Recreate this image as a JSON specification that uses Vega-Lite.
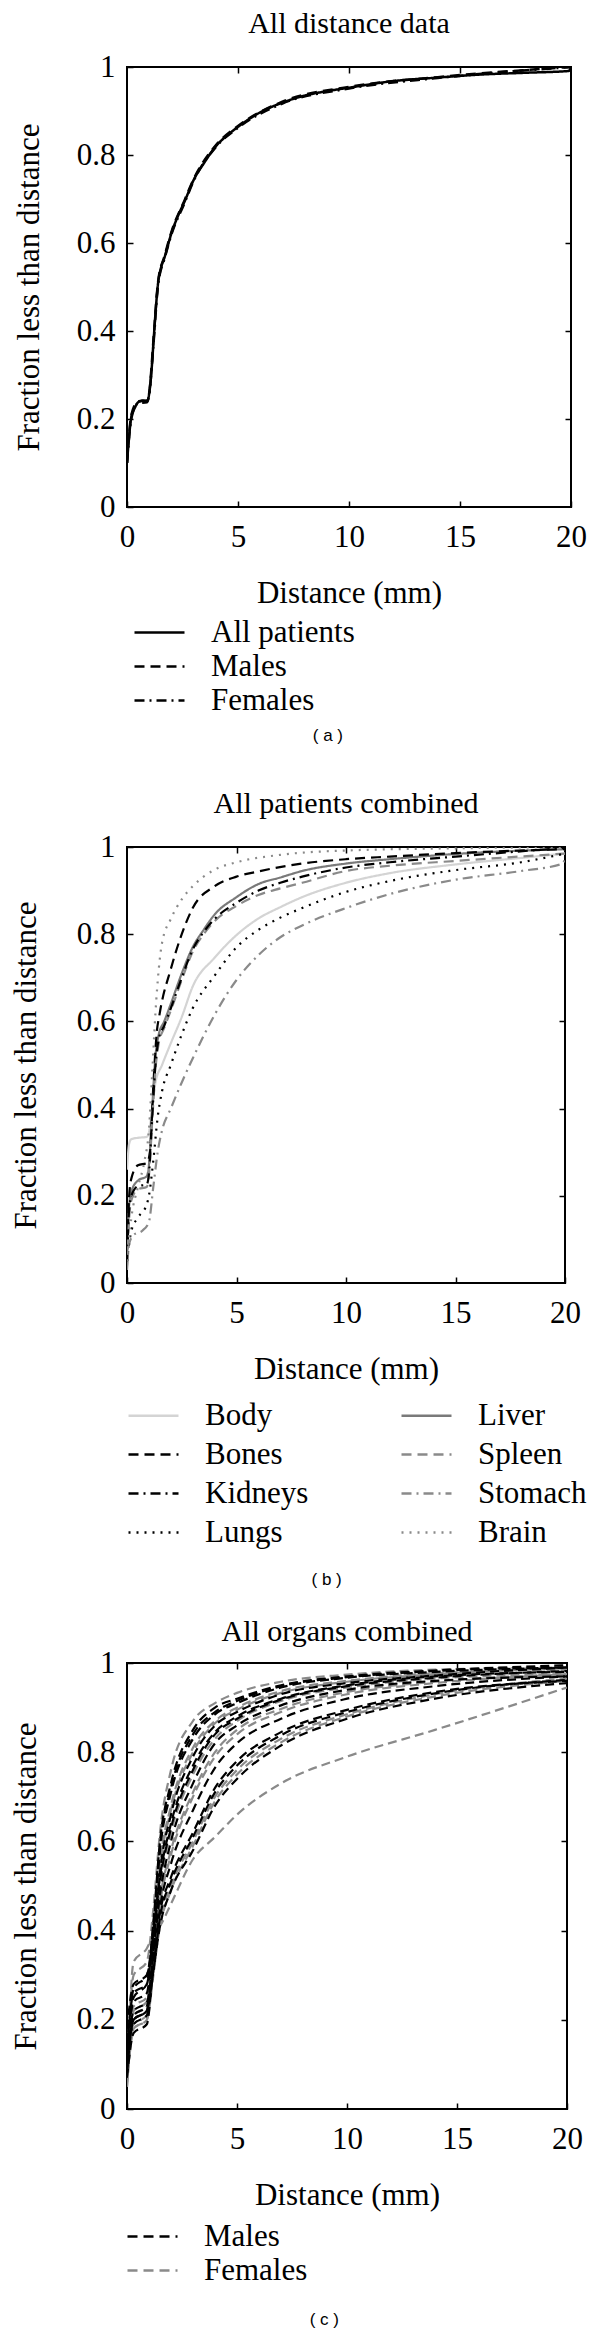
{
  "$schema": "https://vega.github.io/schema/vega-lite/v6.json",
  "background": "white",
  "padding": {"left": 9, "top": 8, "right": 5, "bottom": 5},
  "config": {
    "font": "Liberation Serif",
    "view": {"stroke": "black", "strokeWidth": 2},
    "title": {"font": "Liberation Serif", "fontSize": 30, "fontWeight": "normal", "color": "black", "anchor": "middle", "offset": 12},
    "axis": {
      "labelFont": "Liberation Serif", "labelFontSize": 31, "labelColor": "black",
      "titleFont": "Liberation Serif", "titleFontSize": 31, "titleFontWeight": "normal", "titleColor": "black",
      "grid": false, "domain": false, "tickColor": "black", "tickWidth": 1.5, "tickSize": -6,
      "labelFlush": false, "labelOverlap": false
    },
    "axisX": {"labelPadding": 21, "titlePadding": 26},
    "axisY": {"labelPadding": 18, "titlePadding": 31},
    "legend": {
      "labelFont": "Liberation Serif", "labelFontSize": 31, "labelColor": "black",
      "symbolType": "M-2,0H2", "symbolSize": 625, "symbolStrokeWidth": 2.5, "labelOffset": 36,
      "rowPadding": 2, "orient": "none"
    }
  },
  "resolve": {"scale": {"color": "independent", "strokeDash": "independent"}, "legend": {"color": "independent", "strokeDash": "independent"}},
  "datasets": {
    "a": [
      {"series": "All patients", "distance": 0, "fraction": 0.10},
      {"series": "All patients", "distance": 0.2, "fraction": 0.206},
      {"series": "All patients", "distance": 0.35, "fraction": 0.225},
      {"series": "All patients", "distance": 0.5, "fraction": 0.238},
      {"series": "All patients", "distance": 0.7, "fraction": 0.242},
      {"series": "All patients", "distance": 0.9, "fraction": 0.240},
      {"series": "All patients", "distance": 1.0, "fraction": 0.258},
      {"series": "All patients", "distance": 1.1, "fraction": 0.307},
      {"series": "All patients", "distance": 1.2, "fraction": 0.38},
      {"series": "All patients", "distance": 1.3, "fraction": 0.452},
      {"series": "All patients", "distance": 1.4, "fraction": 0.509},
      {"series": "All patients", "distance": 1.5, "fraction": 0.537},
      {"series": "All patients", "distance": 1.7, "fraction": 0.569},
      {"series": "All patients", "distance": 2.0, "fraction": 0.622},
      {"series": "All patients", "distance": 2.3, "fraction": 0.662},
      {"series": "All patients", "distance": 2.6, "fraction": 0.695},
      {"series": "All patients", "distance": 3.0, "fraction": 0.743},
      {"series": "All patients", "distance": 3.5, "fraction": 0.784},
      {"series": "All patients", "distance": 4.0, "fraction": 0.82},
      {"series": "All patients", "distance": 4.5, "fraction": 0.844},
      {"series": "All patients", "distance": 5, "fraction": 0.864},
      {"series": "All patients", "distance": 6, "fraction": 0.897},
      {"series": "All patients", "distance": 7, "fraction": 0.919},
      {"series": "All patients", "distance": 8, "fraction": 0.935},
      {"series": "All patients", "distance": 9, "fraction": 0.945},
      {"series": "All patients", "distance": 10, "fraction": 0.953},
      {"series": "All patients", "distance": 12, "fraction": 0.968},
      {"series": "All patients", "distance": 14, "fraction": 0.976},
      {"series": "All patients", "distance": 16, "fraction": 0.983},
      {"series": "All patients", "distance": 18, "fraction": 0.987},
      {"series": "All patients", "distance": 19.9, "fraction": 0.991},
      {"series": "All patients", "distance": 20, "fraction": 1.0},
      {"series": "Males", "distance": 0, "fraction": 0.10},
      {"series": "Males", "distance": 0.2, "fraction": 0.21},
      {"series": "Males", "distance": 0.5, "fraction": 0.24},
      {"series": "Males", "distance": 0.9, "fraction": 0.242},
      {"series": "Males", "distance": 1.0, "fraction": 0.26},
      {"series": "Males", "distance": 1.2, "fraction": 0.385},
      {"series": "Males", "distance": 1.4, "fraction": 0.512},
      {"series": "Males", "distance": 1.7, "fraction": 0.572},
      {"series": "Males", "distance": 2.0, "fraction": 0.625},
      {"series": "Males", "distance": 2.6, "fraction": 0.698},
      {"series": "Males", "distance": 3.0, "fraction": 0.745},
      {"series": "Males", "distance": 4.0, "fraction": 0.822},
      {"series": "Males", "distance": 5, "fraction": 0.866},
      {"series": "Males", "distance": 7, "fraction": 0.921},
      {"series": "Males", "distance": 10, "fraction": 0.955},
      {"series": "Males", "distance": 14, "fraction": 0.977},
      {"series": "Males", "distance": 20, "fraction": 1.0},
      {"series": "Females", "distance": 0, "fraction": 0.10},
      {"series": "Females", "distance": 0.2, "fraction": 0.202},
      {"series": "Females", "distance": 0.5, "fraction": 0.236},
      {"series": "Females", "distance": 0.9, "fraction": 0.238},
      {"series": "Females", "distance": 1.0, "fraction": 0.255},
      {"series": "Females", "distance": 1.2, "fraction": 0.375},
      {"series": "Females", "distance": 1.4, "fraction": 0.505},
      {"series": "Females", "distance": 1.7, "fraction": 0.566},
      {"series": "Females", "distance": 2.0, "fraction": 0.619},
      {"series": "Females", "distance": 2.6, "fraction": 0.692},
      {"series": "Females", "distance": 3.0, "fraction": 0.741},
      {"series": "Females", "distance": 4.0, "fraction": 0.818},
      {"series": "Females", "distance": 5, "fraction": 0.862},
      {"series": "Females", "distance": 7, "fraction": 0.917},
      {"series": "Females", "distance": 10, "fraction": 0.951},
      {"series": "Females", "distance": 14, "fraction": 0.975},
      {"series": "Females", "distance": 20, "fraction": 1.0}
    ],
    "b": [
      {"organ": "Body", "distance": 0, "fraction": 0.26},
      {"organ": "Body", "distance": 0.1, "fraction": 0.32},
      {"organ": "Body", "distance": 0.2, "fraction": 0.33},
      {"organ": "Body", "distance": 0.5, "fraction": 0.333},
      {"organ": "Body", "distance": 0.9, "fraction": 0.335},
      {"organ": "Body", "distance": 1.0, "fraction": 0.345},
      {"organ": "Body", "distance": 1.15, "fraction": 0.4},
      {"organ": "Body", "distance": 1.3, "fraction": 0.46},
      {"organ": "Body", "distance": 1.6, "fraction": 0.5},
      {"organ": "Body", "distance": 2, "fraction": 0.55},
      {"organ": "Body", "distance": 2.5, "fraction": 0.61},
      {"organ": "Body", "distance": 3, "fraction": 0.68},
      {"organ": "Body", "distance": 4, "fraction": 0.746},
      {"organ": "Body", "distance": 5, "fraction": 0.798},
      {"organ": "Body", "distance": 6, "fraction": 0.836},
      {"organ": "Body", "distance": 7, "fraction": 0.862},
      {"organ": "Body", "distance": 8, "fraction": 0.885},
      {"organ": "Body", "distance": 10, "fraction": 0.918},
      {"organ": "Body", "distance": 12, "fraction": 0.94},
      {"organ": "Body", "distance": 15, "fraction": 0.96},
      {"organ": "Body", "distance": 18, "fraction": 0.975},
      {"organ": "Body", "distance": 20, "fraction": 0.985},
      {"organ": "Liver", "distance": 0, "fraction": 0.05},
      {"organ": "Liver", "distance": 0.1, "fraction": 0.18},
      {"organ": "Liver", "distance": 0.2, "fraction": 0.21},
      {"organ": "Liver", "distance": 0.5, "fraction": 0.235},
      {"organ": "Liver", "distance": 0.9, "fraction": 0.245},
      {"organ": "Liver", "distance": 1.0, "fraction": 0.27},
      {"organ": "Liver", "distance": 1.15, "fraction": 0.4},
      {"organ": "Liver", "distance": 1.3, "fraction": 0.52},
      {"organ": "Liver", "distance": 1.45, "fraction": 0.57},
      {"organ": "Liver", "distance": 1.7, "fraction": 0.6},
      {"organ": "Liver", "distance": 2, "fraction": 0.64},
      {"organ": "Liver", "distance": 2.5, "fraction": 0.71},
      {"organ": "Liver", "distance": 3, "fraction": 0.77},
      {"organ": "Liver", "distance": 3.5, "fraction": 0.81},
      {"organ": "Liver", "distance": 4, "fraction": 0.845},
      {"organ": "Liver", "distance": 5, "fraction": 0.885},
      {"organ": "Liver", "distance": 6, "fraction": 0.915},
      {"organ": "Liver", "distance": 7, "fraction": 0.93},
      {"organ": "Liver", "distance": 8, "fraction": 0.945},
      {"organ": "Liver", "distance": 10, "fraction": 0.962},
      {"organ": "Liver", "distance": 12, "fraction": 0.972},
      {"organ": "Liver", "distance": 15, "fraction": 0.984},
      {"organ": "Liver", "distance": 20, "fraction": 0.995},
      {"organ": "Bones", "distance": 0, "fraction": 0.05},
      {"organ": "Bones", "distance": 0.1, "fraction": 0.2},
      {"organ": "Bones", "distance": 0.2, "fraction": 0.24},
      {"organ": "Bones", "distance": 0.5, "fraction": 0.27},
      {"organ": "Bones", "distance": 0.9, "fraction": 0.275},
      {"organ": "Bones", "distance": 1.05, "fraction": 0.3},
      {"organ": "Bones", "distance": 1.2, "fraction": 0.45},
      {"organ": "Bones", "distance": 1.35, "fraction": 0.57},
      {"organ": "Bones", "distance": 1.5, "fraction": 0.62},
      {"organ": "Bones", "distance": 2, "fraction": 0.72},
      {"organ": "Bones", "distance": 2.5, "fraction": 0.8},
      {"organ": "Bones", "distance": 3, "fraction": 0.86},
      {"organ": "Bones", "distance": 4, "fraction": 0.91},
      {"organ": "Bones", "distance": 5, "fraction": 0.932},
      {"organ": "Bones", "distance": 6, "fraction": 0.944},
      {"organ": "Bones", "distance": 8, "fraction": 0.962},
      {"organ": "Bones", "distance": 10, "fraction": 0.972},
      {"organ": "Bones", "distance": 12, "fraction": 0.978},
      {"organ": "Bones", "distance": 15, "fraction": 0.986},
      {"organ": "Bones", "distance": 20, "fraction": 0.995},
      {"organ": "Spleen", "distance": 0, "fraction": 0.04},
      {"organ": "Spleen", "distance": 0.1, "fraction": 0.15},
      {"organ": "Spleen", "distance": 0.2, "fraction": 0.19},
      {"organ": "Spleen", "distance": 0.5, "fraction": 0.215},
      {"organ": "Spleen", "distance": 0.9, "fraction": 0.22},
      {"organ": "Spleen", "distance": 1.0, "fraction": 0.245},
      {"organ": "Spleen", "distance": 1.15, "fraction": 0.37},
      {"organ": "Spleen", "distance": 1.3, "fraction": 0.49},
      {"organ": "Spleen", "distance": 1.45, "fraction": 0.55},
      {"organ": "Spleen", "distance": 1.7, "fraction": 0.585},
      {"organ": "Spleen", "distance": 2, "fraction": 0.625},
      {"organ": "Spleen", "distance": 2.5, "fraction": 0.695},
      {"organ": "Spleen", "distance": 3, "fraction": 0.76},
      {"organ": "Spleen", "distance": 3.5, "fraction": 0.8},
      {"organ": "Spleen", "distance": 4, "fraction": 0.83},
      {"organ": "Spleen", "distance": 5, "fraction": 0.865},
      {"organ": "Spleen", "distance": 6, "fraction": 0.89},
      {"organ": "Spleen", "distance": 7, "fraction": 0.905},
      {"organ": "Spleen", "distance": 8, "fraction": 0.918},
      {"organ": "Spleen", "distance": 10, "fraction": 0.945},
      {"organ": "Spleen", "distance": 12, "fraction": 0.957},
      {"organ": "Spleen", "distance": 15, "fraction": 0.968},
      {"organ": "Spleen", "distance": 20, "fraction": 0.985},
      {"organ": "Kidneys", "distance": 0, "fraction": 0.05},
      {"organ": "Kidneys", "distance": 0.1, "fraction": 0.17},
      {"organ": "Kidneys", "distance": 0.2, "fraction": 0.2},
      {"organ": "Kidneys", "distance": 0.5, "fraction": 0.222},
      {"organ": "Kidneys", "distance": 0.9, "fraction": 0.226},
      {"organ": "Kidneys", "distance": 1.0, "fraction": 0.25},
      {"organ": "Kidneys", "distance": 1.15, "fraction": 0.38},
      {"organ": "Kidneys", "distance": 1.3, "fraction": 0.5},
      {"organ": "Kidneys", "distance": 1.45, "fraction": 0.56},
      {"organ": "Kidneys", "distance": 1.7, "fraction": 0.59},
      {"organ": "Kidneys", "distance": 2, "fraction": 0.63},
      {"organ": "Kidneys", "distance": 2.5, "fraction": 0.7},
      {"organ": "Kidneys", "distance": 3, "fraction": 0.765},
      {"organ": "Kidneys", "distance": 3.5, "fraction": 0.805},
      {"organ": "Kidneys", "distance": 4, "fraction": 0.835},
      {"organ": "Kidneys", "distance": 5, "fraction": 0.872},
      {"organ": "Kidneys", "distance": 6, "fraction": 0.9},
      {"organ": "Kidneys", "distance": 7, "fraction": 0.918},
      {"organ": "Kidneys", "distance": 8, "fraction": 0.932},
      {"organ": "Kidneys", "distance": 10, "fraction": 0.953},
      {"organ": "Kidneys", "distance": 12, "fraction": 0.965},
      {"organ": "Kidneys", "distance": 15, "fraction": 0.978},
      {"organ": "Kidneys", "distance": 20, "fraction": 0.998},
      {"organ": "Stomach", "distance": 0, "fraction": 0.03},
      {"organ": "Stomach", "distance": 0.1, "fraction": 0.09},
      {"organ": "Stomach", "distance": 0.3, "fraction": 0.11},
      {"organ": "Stomach", "distance": 0.7, "fraction": 0.12},
      {"organ": "Stomach", "distance": 1.0, "fraction": 0.14},
      {"organ": "Stomach", "distance": 1.2, "fraction": 0.22},
      {"organ": "Stomach", "distance": 1.4, "fraction": 0.3},
      {"organ": "Stomach", "distance": 1.6, "fraction": 0.35},
      {"organ": "Stomach", "distance": 2, "fraction": 0.4},
      {"organ": "Stomach", "distance": 2.5, "fraction": 0.46},
      {"organ": "Stomach", "distance": 3, "fraction": 0.515},
      {"organ": "Stomach", "distance": 4, "fraction": 0.615},
      {"organ": "Stomach", "distance": 5, "fraction": 0.695},
      {"organ": "Stomach", "distance": 6, "fraction": 0.752},
      {"organ": "Stomach", "distance": 7, "fraction": 0.793},
      {"organ": "Stomach", "distance": 8, "fraction": 0.82},
      {"organ": "Stomach", "distance": 10, "fraction": 0.86},
      {"organ": "Stomach", "distance": 12, "fraction": 0.892},
      {"organ": "Stomach", "distance": 15, "fraction": 0.925},
      {"organ": "Stomach", "distance": 18, "fraction": 0.945},
      {"organ": "Stomach", "distance": 19.9, "fraction": 0.962},
      {"organ": "Stomach", "distance": 20, "fraction": 0.975},
      {"organ": "Lungs", "distance": 0, "fraction": 0.05},
      {"organ": "Lungs", "distance": 0.2, "fraction": 0.12},
      {"organ": "Lungs", "distance": 0.5, "fraction": 0.15},
      {"organ": "Lungs", "distance": 0.9, "fraction": 0.18},
      {"organ": "Lungs", "distance": 1.0, "fraction": 0.2},
      {"organ": "Lungs", "distance": 1.2, "fraction": 0.28},
      {"organ": "Lungs", "distance": 1.4, "fraction": 0.38},
      {"organ": "Lungs", "distance": 1.6, "fraction": 0.44},
      {"organ": "Lungs", "distance": 2, "fraction": 0.5},
      {"organ": "Lungs", "distance": 2.5, "fraction": 0.57},
      {"organ": "Lungs", "distance": 3, "fraction": 0.63},
      {"organ": "Lungs", "distance": 4, "fraction": 0.705},
      {"organ": "Lungs", "distance": 5, "fraction": 0.77},
      {"organ": "Lungs", "distance": 6, "fraction": 0.81},
      {"organ": "Lungs", "distance": 7, "fraction": 0.838},
      {"organ": "Lungs", "distance": 8, "fraction": 0.86},
      {"organ": "Lungs", "distance": 10, "fraction": 0.897},
      {"organ": "Lungs", "distance": 12, "fraction": 0.922},
      {"organ": "Lungs", "distance": 15, "fraction": 0.947},
      {"organ": "Lungs", "distance": 18, "fraction": 0.965},
      {"organ": "Lungs", "distance": 20, "fraction": 0.985},
      {"organ": "Brain", "distance": 0, "fraction": 0.05},
      {"organ": "Brain", "distance": 0.2, "fraction": 0.15},
      {"organ": "Brain", "distance": 0.5, "fraction": 0.22},
      {"organ": "Brain", "distance": 0.8, "fraction": 0.28},
      {"organ": "Brain", "distance": 1.0, "fraction": 0.35},
      {"organ": "Brain", "distance": 1.15, "fraction": 0.48},
      {"organ": "Brain", "distance": 1.3, "fraction": 0.62},
      {"organ": "Brain", "distance": 1.45, "fraction": 0.72},
      {"organ": "Brain", "distance": 1.6, "fraction": 0.78},
      {"organ": "Brain", "distance": 2, "fraction": 0.835},
      {"organ": "Brain", "distance": 2.5, "fraction": 0.88},
      {"organ": "Brain", "distance": 3, "fraction": 0.91},
      {"organ": "Brain", "distance": 4, "fraction": 0.948},
      {"organ": "Brain", "distance": 5, "fraction": 0.965},
      {"organ": "Brain", "distance": 7, "fraction": 0.982},
      {"organ": "Brain", "distance": 10, "fraction": 0.992},
      {"organ": "Brain", "distance": 15, "fraction": 0.997},
      {"organ": "Brain", "distance": 20, "fraction": 1.0}
    ],
    "c": [
      {"curve": "F1", "sex": "Females", "distance": 0, "fraction": 0.10},
      {"curve": "F1", "sex": "Females", "distance": 0.3, "fraction": 0.30},
      {"curve": "F1", "sex": "Females", "distance": 0.9, "fraction": 0.33},
      {"curve": "F1", "sex": "Females", "distance": 1.2, "fraction": 0.45},
      {"curve": "F1", "sex": "Females", "distance": 1.5, "fraction": 0.62},
      {"curve": "F1", "sex": "Females", "distance": 2, "fraction": 0.76},
      {"curve": "F1", "sex": "Females", "distance": 3, "fraction": 0.87},
      {"curve": "F1", "sex": "Females", "distance": 4, "fraction": 0.91},
      {"curve": "F1", "sex": "Females", "distance": 5, "fraction": 0.933},
      {"curve": "F1", "sex": "Females", "distance": 7, "fraction": 0.958},
      {"curve": "F1", "sex": "Females", "distance": 10, "fraction": 0.974},
      {"curve": "F1", "sex": "Females", "distance": 14, "fraction": 0.985},
      {"curve": "F1", "sex": "Females", "distance": 20, "fraction": 0.99},
      {"curve": "F2", "sex": "Females", "distance": 0, "fraction": 0.08},
      {"curve": "F2", "sex": "Females", "distance": 0.3, "fraction": 0.22},
      {"curve": "F2", "sex": "Females", "distance": 0.9, "fraction": 0.24},
      {"curve": "F2", "sex": "Females", "distance": 1.2, "fraction": 0.38},
      {"curve": "F2", "sex": "Females", "distance": 1.5, "fraction": 0.55},
      {"curve": "F2", "sex": "Females", "distance": 2, "fraction": 0.68},
      {"curve": "F2", "sex": "Females", "distance": 3, "fraction": 0.81},
      {"curve": "F2", "sex": "Females", "distance": 4, "fraction": 0.87},
      {"curve": "F2", "sex": "Females", "distance": 5, "fraction": 0.90},
      {"curve": "F2", "sex": "Females", "distance": 7, "fraction": 0.937},
      {"curve": "F2", "sex": "Females", "distance": 10, "fraction": 0.96},
      {"curve": "F2", "sex": "Females", "distance": 14, "fraction": 0.977},
      {"curve": "F2", "sex": "Females", "distance": 20, "fraction": 0.985},
      {"curve": "F3", "sex": "Females", "distance": 0, "fraction": 0.12},
      {"curve": "F3", "sex": "Females", "distance": 0.3, "fraction": 0.23},
      {"curve": "F3", "sex": "Females", "distance": 0.9, "fraction": 0.25},
      {"curve": "F3", "sex": "Females", "distance": 1.2, "fraction": 0.37},
      {"curve": "F3", "sex": "Females", "distance": 1.5, "fraction": 0.54},
      {"curve": "F3", "sex": "Females", "distance": 2, "fraction": 0.67},
      {"curve": "F3", "sex": "Females", "distance": 3, "fraction": 0.80},
      {"curve": "F3", "sex": "Females", "distance": 4, "fraction": 0.865},
      {"curve": "F3", "sex": "Females", "distance": 5, "fraction": 0.895},
      {"curve": "F3", "sex": "Females", "distance": 7, "fraction": 0.933},
      {"curve": "F3", "sex": "Females", "distance": 10, "fraction": 0.958},
      {"curve": "F3", "sex": "Females", "distance": 14, "fraction": 0.975},
      {"curve": "F3", "sex": "Females", "distance": 20, "fraction": 0.988},
      {"curve": "F4", "sex": "Females", "distance": 0, "fraction": 0.06},
      {"curve": "F4", "sex": "Females", "distance": 0.3, "fraction": 0.18},
      {"curve": "F4", "sex": "Females", "distance": 0.9, "fraction": 0.20},
      {"curve": "F4", "sex": "Females", "distance": 1.2, "fraction": 0.35},
      {"curve": "F4", "sex": "Females", "distance": 1.5, "fraction": 0.50},
      {"curve": "F4", "sex": "Females", "distance": 2, "fraction": 0.62},
      {"curve": "F4", "sex": "Females", "distance": 3, "fraction": 0.75},
      {"curve": "F4", "sex": "Females", "distance": 4, "fraction": 0.83},
      {"curve": "F4", "sex": "Females", "distance": 5, "fraction": 0.87},
      {"curve": "F4", "sex": "Females", "distance": 7, "fraction": 0.915},
      {"curve": "F4", "sex": "Females", "distance": 10, "fraction": 0.945},
      {"curve": "F4", "sex": "Females", "distance": 14, "fraction": 0.965},
      {"curve": "F4", "sex": "Females", "distance": 20, "fraction": 0.975},
      {"curve": "F5", "sex": "Females", "distance": 0, "fraction": 0.11},
      {"curve": "F5", "sex": "Females", "distance": 0.3, "fraction": 0.20},
      {"curve": "F5", "sex": "Females", "distance": 0.9, "fraction": 0.22},
      {"curve": "F5", "sex": "Females", "distance": 1.2, "fraction": 0.34},
      {"curve": "F5", "sex": "Females", "distance": 1.5, "fraction": 0.47},
      {"curve": "F5", "sex": "Females", "distance": 2, "fraction": 0.58},
      {"curve": "F5", "sex": "Females", "distance": 3, "fraction": 0.71},
      {"curve": "F5", "sex": "Females", "distance": 4, "fraction": 0.80},
      {"curve": "F5", "sex": "Females", "distance": 5, "fraction": 0.85},
      {"curve": "F5", "sex": "Females", "distance": 7, "fraction": 0.897},
      {"curve": "F5", "sex": "Females", "distance": 10, "fraction": 0.935},
      {"curve": "F5", "sex": "Females", "distance": 14, "fraction": 0.958},
      {"curve": "F5", "sex": "Females", "distance": 20, "fraction": 0.975},
      {"curve": "F6", "sex": "Females", "distance": 0, "fraction": 0.12},
      {"curve": "F6", "sex": "Females", "distance": 0.3, "fraction": 0.19},
      {"curve": "F6", "sex": "Females", "distance": 0.9, "fraction": 0.21},
      {"curve": "F6", "sex": "Females", "distance": 1.2, "fraction": 0.34},
      {"curve": "F6", "sex": "Females", "distance": 1.5, "fraction": 0.46},
      {"curve": "F6", "sex": "Females", "distance": 2, "fraction": 0.57},
      {"curve": "F6", "sex": "Females", "distance": 3, "fraction": 0.70},
      {"curve": "F6", "sex": "Females", "distance": 4, "fraction": 0.79},
      {"curve": "F6", "sex": "Females", "distance": 5, "fraction": 0.84},
      {"curve": "F6", "sex": "Females", "distance": 7, "fraction": 0.89},
      {"curve": "F6", "sex": "Females", "distance": 10, "fraction": 0.93},
      {"curve": "F6", "sex": "Females", "distance": 14, "fraction": 0.955},
      {"curve": "F6", "sex": "Females", "distance": 20, "fraction": 0.975},
      {"curve": "F7", "sex": "Females", "distance": 0, "fraction": 0.05},
      {"curve": "F7", "sex": "Females", "distance": 0.3, "fraction": 0.18},
      {"curve": "F7", "sex": "Females", "distance": 0.9, "fraction": 0.20},
      {"curve": "F7", "sex": "Females", "distance": 1.2, "fraction": 0.30},
      {"curve": "F7", "sex": "Females", "distance": 1.5, "fraction": 0.42},
      {"curve": "F7", "sex": "Females", "distance": 2, "fraction": 0.50},
      {"curve": "F7", "sex": "Females", "distance": 3, "fraction": 0.60},
      {"curve": "F7", "sex": "Females", "distance": 4, "fraction": 0.70},
      {"curve": "F7", "sex": "Females", "distance": 5, "fraction": 0.76},
      {"curve": "F7", "sex": "Females", "distance": 7, "fraction": 0.83},
      {"curve": "F7", "sex": "Females", "distance": 10, "fraction": 0.885},
      {"curve": "F7", "sex": "Females", "distance": 14, "fraction": 0.93},
      {"curve": "F7", "sex": "Females", "distance": 20, "fraction": 0.965},
      {"curve": "F8", "sex": "Females", "distance": 0, "fraction": 0.12},
      {"curve": "F8", "sex": "Females", "distance": 0.3, "fraction": 0.21},
      {"curve": "F8", "sex": "Females", "distance": 0.9, "fraction": 0.23},
      {"curve": "F8", "sex": "Females", "distance": 1.2, "fraction": 0.31},
      {"curve": "F8", "sex": "Females", "distance": 1.5, "fraction": 0.41},
      {"curve": "F8", "sex": "Females", "distance": 2, "fraction": 0.49},
      {"curve": "F8", "sex": "Females", "distance": 3, "fraction": 0.59},
      {"curve": "F8", "sex": "Females", "distance": 4, "fraction": 0.69},
      {"curve": "F8", "sex": "Females", "distance": 5, "fraction": 0.75},
      {"curve": "F8", "sex": "Females", "distance": 7, "fraction": 0.822},
      {"curve": "F8", "sex": "Females", "distance": 10, "fraction": 0.88},
      {"curve": "F8", "sex": "Females", "distance": 14, "fraction": 0.925},
      {"curve": "F8", "sex": "Females", "distance": 20, "fraction": 0.96},
      {"curve": "F9", "sex": "Females", "distance": 0, "fraction": 0.05},
      {"curve": "F9", "sex": "Females", "distance": 0.3, "fraction": 0.33},
      {"curve": "F9", "sex": "Females", "distance": 0.9, "fraction": 0.36},
      {"curve": "F9", "sex": "Females", "distance": 1.2, "fraction": 0.39},
      {"curve": "F9", "sex": "Females", "distance": 1.5, "fraction": 0.41},
      {"curve": "F9", "sex": "Females", "distance": 2, "fraction": 0.46},
      {"curve": "F9", "sex": "Females", "distance": 3, "fraction": 0.56},
      {"curve": "F9", "sex": "Females", "distance": 4, "fraction": 0.61},
      {"curve": "F9", "sex": "Females", "distance": 5, "fraction": 0.66},
      {"curve": "F9", "sex": "Females", "distance": 7, "fraction": 0.73},
      {"curve": "F9", "sex": "Females", "distance": 10, "fraction": 0.79},
      {"curve": "F9", "sex": "Females", "distance": 14, "fraction": 0.85},
      {"curve": "F9", "sex": "Females", "distance": 20, "fraction": 0.945},
      {"curve": "M1", "sex": "Males", "distance": 0, "fraction": 0.12},
      {"curve": "M1", "sex": "Males", "distance": 0.3, "fraction": 0.25},
      {"curve": "M1", "sex": "Males", "distance": 0.9, "fraction": 0.28},
      {"curve": "M1", "sex": "Males", "distance": 1.2, "fraction": 0.42},
      {"curve": "M1", "sex": "Males", "distance": 1.5, "fraction": 0.60},
      {"curve": "M1", "sex": "Males", "distance": 2, "fraction": 0.73},
      {"curve": "M1", "sex": "Males", "distance": 3, "fraction": 0.85},
      {"curve": "M1", "sex": "Males", "distance": 4, "fraction": 0.90},
      {"curve": "M1", "sex": "Males", "distance": 5, "fraction": 0.92},
      {"curve": "M1", "sex": "Males", "distance": 7, "fraction": 0.95},
      {"curve": "M1", "sex": "Males", "distance": 10, "fraction": 0.97},
      {"curve": "M1", "sex": "Males", "distance": 14, "fraction": 0.983},
      {"curve": "M1", "sex": "Males", "distance": 20, "fraction": 0.995},
      {"curve": "M2", "sex": "Males", "distance": 0, "fraction": 0.18},
      {"curve": "M2", "sex": "Males", "distance": 0.3, "fraction": 0.28},
      {"curve": "M2", "sex": "Males", "distance": 0.9, "fraction": 0.30},
      {"curve": "M2", "sex": "Males", "distance": 1.2, "fraction": 0.41},
      {"curve": "M2", "sex": "Males", "distance": 1.5, "fraction": 0.59},
      {"curve": "M2", "sex": "Males", "distance": 2, "fraction": 0.72},
      {"curve": "M2", "sex": "Males", "distance": 3, "fraction": 0.84},
      {"curve": "M2", "sex": "Males", "distance": 4, "fraction": 0.89},
      {"curve": "M2", "sex": "Males", "distance": 5, "fraction": 0.915},
      {"curve": "M2", "sex": "Males", "distance": 7, "fraction": 0.948},
      {"curve": "M2", "sex": "Males", "distance": 10, "fraction": 0.968},
      {"curve": "M2", "sex": "Males", "distance": 14, "fraction": 0.982},
      {"curve": "M2", "sex": "Males", "distance": 20, "fraction": 0.99},
      {"curve": "M3", "sex": "Males", "distance": 0, "fraction": 0.15},
      {"curve": "M3", "sex": "Males", "distance": 0.3, "fraction": 0.24},
      {"curve": "M3", "sex": "Males", "distance": 0.9, "fraction": 0.26},
      {"curve": "M3", "sex": "Males", "distance": 1.2, "fraction": 0.40},
      {"curve": "M3", "sex": "Males", "distance": 1.5, "fraction": 0.58},
      {"curve": "M3", "sex": "Males", "distance": 2, "fraction": 0.71},
      {"curve": "M3", "sex": "Males", "distance": 3, "fraction": 0.83},
      {"curve": "M3", "sex": "Males", "distance": 4, "fraction": 0.885},
      {"curve": "M3", "sex": "Males", "distance": 5, "fraction": 0.91},
      {"curve": "M3", "sex": "Males", "distance": 7, "fraction": 0.945},
      {"curve": "M3", "sex": "Males", "distance": 10, "fraction": 0.967},
      {"curve": "M3", "sex": "Males", "distance": 14, "fraction": 0.98},
      {"curve": "M3", "sex": "Males", "distance": 20, "fraction": 0.99},
      {"curve": "M4", "sex": "Males", "distance": 0, "fraction": 0.10},
      {"curve": "M4", "sex": "Males", "distance": 0.3, "fraction": 0.20},
      {"curve": "M4", "sex": "Males", "distance": 0.9, "fraction": 0.22},
      {"curve": "M4", "sex": "Males", "distance": 1.2, "fraction": 0.36},
      {"curve": "M4", "sex": "Males", "distance": 1.5, "fraction": 0.53},
      {"curve": "M4", "sex": "Males", "distance": 2, "fraction": 0.66},
      {"curve": "M4", "sex": "Males", "distance": 3, "fraction": 0.79},
      {"curve": "M4", "sex": "Males", "distance": 4, "fraction": 0.86},
      {"curve": "M4", "sex": "Males", "distance": 5, "fraction": 0.89},
      {"curve": "M4", "sex": "Males", "distance": 7, "fraction": 0.93},
      {"curve": "M4", "sex": "Males", "distance": 10, "fraction": 0.955},
      {"curve": "M4", "sex": "Males", "distance": 14, "fraction": 0.972},
      {"curve": "M4", "sex": "Males", "distance": 20, "fraction": 0.99},
      {"curve": "M5", "sex": "Males", "distance": 0, "fraction": 0.14},
      {"curve": "M5", "sex": "Males", "distance": 0.3, "fraction": 0.26},
      {"curve": "M5", "sex": "Males", "distance": 0.9, "fraction": 0.28},
      {"curve": "M5", "sex": "Males", "distance": 1.2, "fraction": 0.40},
      {"curve": "M5", "sex": "Males", "distance": 1.5, "fraction": 0.52},
      {"curve": "M5", "sex": "Males", "distance": 2, "fraction": 0.64},
      {"curve": "M5", "sex": "Males", "distance": 3, "fraction": 0.77},
      {"curve": "M5", "sex": "Males", "distance": 4, "fraction": 0.845},
      {"curve": "M5", "sex": "Males", "distance": 5, "fraction": 0.88},
      {"curve": "M5", "sex": "Males", "distance": 7, "fraction": 0.92},
      {"curve": "M5", "sex": "Males", "distance": 10, "fraction": 0.95},
      {"curve": "M5", "sex": "Males", "distance": 14, "fraction": 0.97},
      {"curve": "M5", "sex": "Males", "distance": 20, "fraction": 0.98},
      {"curve": "M6", "sex": "Males", "distance": 0, "fraction": 0.09},
      {"curve": "M6", "sex": "Males", "distance": 0.3, "fraction": 0.27},
      {"curve": "M6", "sex": "Males", "distance": 0.9, "fraction": 0.30},
      {"curve": "M6", "sex": "Males", "distance": 1.2, "fraction": 0.38},
      {"curve": "M6", "sex": "Males", "distance": 1.5, "fraction": 0.51},
      {"curve": "M6", "sex": "Males", "distance": 2, "fraction": 0.63},
      {"curve": "M6", "sex": "Males", "distance": 3, "fraction": 0.76},
      {"curve": "M6", "sex": "Males", "distance": 4, "fraction": 0.84},
      {"curve": "M6", "sex": "Males", "distance": 5, "fraction": 0.875},
      {"curve": "M6", "sex": "Males", "distance": 7, "fraction": 0.918},
      {"curve": "M6", "sex": "Males", "distance": 10, "fraction": 0.948},
      {"curve": "M6", "sex": "Males", "distance": 14, "fraction": 0.967},
      {"curve": "M6", "sex": "Males", "distance": 20, "fraction": 0.982},
      {"curve": "M7", "sex": "Males", "distance": 0, "fraction": 0.09},
      {"curve": "M7", "sex": "Males", "distance": 0.3, "fraction": 0.21},
      {"curve": "M7", "sex": "Males", "distance": 0.9, "fraction": 0.23},
      {"curve": "M7", "sex": "Males", "distance": 1.2, "fraction": 0.35},
      {"curve": "M7", "sex": "Males", "distance": 1.5, "fraction": 0.48},
      {"curve": "M7", "sex": "Males", "distance": 2, "fraction": 0.60},
      {"curve": "M7", "sex": "Males", "distance": 3, "fraction": 0.73},
      {"curve": "M7", "sex": "Males", "distance": 4, "fraction": 0.82},
      {"curve": "M7", "sex": "Males", "distance": 5, "fraction": 0.86},
      {"curve": "M7", "sex": "Males", "distance": 7, "fraction": 0.905},
      {"curve": "M7", "sex": "Males", "distance": 10, "fraction": 0.94},
      {"curve": "M7", "sex": "Males", "distance": 14, "fraction": 0.96},
      {"curve": "M7", "sex": "Males", "distance": 20, "fraction": 0.97},
      {"curve": "M8", "sex": "Males", "distance": 0, "fraction": 0.07},
      {"curve": "M8", "sex": "Males", "distance": 0.3, "fraction": 0.17},
      {"curve": "M8", "sex": "Males", "distance": 0.9, "fraction": 0.19},
      {"curve": "M8", "sex": "Males", "distance": 1.2, "fraction": 0.32},
      {"curve": "M8", "sex": "Males", "distance": 1.5, "fraction": 0.45},
      {"curve": "M8", "sex": "Males", "distance": 2, "fraction": 0.55},
      {"curve": "M8", "sex": "Males", "distance": 3, "fraction": 0.67},
      {"curve": "M8", "sex": "Males", "distance": 4, "fraction": 0.765},
      {"curve": "M8", "sex": "Males", "distance": 5, "fraction": 0.82},
      {"curve": "M8", "sex": "Males", "distance": 7, "fraction": 0.875},
      {"curve": "M8", "sex": "Males", "distance": 10, "fraction": 0.92},
      {"curve": "M8", "sex": "Males", "distance": 14, "fraction": 0.948},
      {"curve": "M8", "sex": "Males", "distance": 20, "fraction": 0.97},
      {"curve": "M9", "sex": "Males", "distance": 0, "fraction": 0.10},
      {"curve": "M9", "sex": "Males", "distance": 0.3, "fraction": 0.22},
      {"curve": "M9", "sex": "Males", "distance": 0.9, "fraction": 0.24},
      {"curve": "M9", "sex": "Males", "distance": 1.2, "fraction": 0.33},
      {"curve": "M9", "sex": "Males", "distance": 1.5, "fraction": 0.44},
      {"curve": "M9", "sex": "Males", "distance": 2, "fraction": 0.52},
      {"curve": "M9", "sex": "Males", "distance": 3, "fraction": 0.62},
      {"curve": "M9", "sex": "Males", "distance": 4, "fraction": 0.72},
      {"curve": "M9", "sex": "Males", "distance": 5, "fraction": 0.78},
      {"curve": "M9", "sex": "Males", "distance": 7, "fraction": 0.845},
      {"curve": "M9", "sex": "Males", "distance": 10, "fraction": 0.895},
      {"curve": "M9", "sex": "Males", "distance": 14, "fraction": 0.935},
      {"curve": "M9", "sex": "Males", "distance": 20, "fraction": 0.96},
      {"curve": "M10", "sex": "Males", "distance": 0, "fraction": 0.08},
      {"curve": "M10", "sex": "Males", "distance": 0.3, "fraction": 0.20},
      {"curve": "M10", "sex": "Males", "distance": 0.9, "fraction": 0.22},
      {"curve": "M10", "sex": "Males", "distance": 1.2, "fraction": 0.31},
      {"curve": "M10", "sex": "Males", "distance": 1.5, "fraction": 0.43},
      {"curve": "M10", "sex": "Males", "distance": 2, "fraction": 0.51},
      {"curve": "M10", "sex": "Males", "distance": 3, "fraction": 0.61},
      {"curve": "M10", "sex": "Males", "distance": 4, "fraction": 0.71},
      {"curve": "M10", "sex": "Males", "distance": 5, "fraction": 0.77},
      {"curve": "M10", "sex": "Males", "distance": 7, "fraction": 0.838},
      {"curve": "M10", "sex": "Males", "distance": 10, "fraction": 0.89},
      {"curve": "M10", "sex": "Males", "distance": 14, "fraction": 0.932},
      {"curve": "M10", "sex": "Males", "distance": 20, "fraction": 0.962},
      {"curve": "M11", "sex": "Males", "distance": 0, "fraction": 0.13},
      {"curve": "M11", "sex": "Males", "distance": 0.3, "fraction": 0.19},
      {"curve": "M11", "sex": "Males", "distance": 0.9, "fraction": 0.21},
      {"curve": "M11", "sex": "Males", "distance": 1.2, "fraction": 0.31},
      {"curve": "M11", "sex": "Males", "distance": 1.5, "fraction": 0.41},
      {"curve": "M11", "sex": "Males", "distance": 2, "fraction": 0.49},
      {"curve": "M11", "sex": "Males", "distance": 3, "fraction": 0.58},
      {"curve": "M11", "sex": "Males", "distance": 4, "fraction": 0.68},
      {"curve": "M11", "sex": "Males", "distance": 5, "fraction": 0.74},
      {"curve": "M11", "sex": "Males", "distance": 7, "fraction": 0.815},
      {"curve": "M11", "sex": "Males", "distance": 10, "fraction": 0.875},
      {"curve": "M11", "sex": "Males", "distance": 14, "fraction": 0.92},
      {"curve": "M11", "sex": "Males", "distance": 20, "fraction": 0.955}
    ]
  },
  "spacing": 28,
  "vconcat": [
    {
      "title": {"text": ["( a )", ""], "lineHeight": 16, "orient": "bottom", "font": "Liberation Sans", "fontSize": 17, "anchor": "middle", "offset": 11, "dx": 28},
      "resolve": {"scale": {"strokeDash": "independent"}, "legend": {"strokeDash": "independent"}},
      "vconcat": [
        {
          "title": {"text": "All distance data", "offset": 12},
          "width": 444, "height": 440,
          "data": {"name": "a"},
          "resolve": {"axis": {"x": "independent", "y": "independent"}},
          "layer": [
            {
              "mark": {"type": "line", "strokeOpacity": 0},
              "encoding": {
                "x": {"field": "distance", "type": "quantitative", "scale": {"domain": [0, 20], "nice": false}, "axis": {"orient": "top", "labels": false, "title": null, "values": [5, 10, 15]}},
                "y": {"field": "fraction", "type": "quantitative", "scale": {"domain": [0, 1], "nice": false}, "axis": {"orient": "right", "labels": false, "title": null, "values": [0.2, 0.4, 0.6, 0.8]}},
                "detail": {"field": "series"}
              }
            },
            {
              "mark": {"type": "line", "interpolate": "monotone", "strokeWidth": 2.5, "clip": true},
              "encoding": {
                "x": {"field": "distance", "type": "quantitative", "axis": {"orient": "bottom", "title": "Distance (mm)", "values": [0, 5, 10, 15, 20]}},
                "y": {"field": "fraction", "type": "quantitative", "axis": {"orient": "left", "title": "Fraction less than distance", "values": [0, 0.2, 0.4, 0.6, 0.8, 1], "format": "~g"}},
                "color": {"value": "black"},
                "strokeDash": {
                  "field": "series", "type": "nominal",
                  "scale": {"domain": ["All patients", "Males", "Females"], "range": [[1, 0], [10, 6], [10, 5, 2, 5]]},
                  "legend": {"title": null, "symbolType": "M-2,0H2", "legendX": 17, "legendY": 550}
                }
              }
            }
          ]
        }
      ]
    },
    {
      "title": {"text": "( b )", "orient": "bottom", "font": "Liberation Sans", "fontSize": 17, "anchor": "middle", "offset": 23, "dx": 28},
      "resolve": {"scale": {"color": "independent", "strokeDash": "independent"}, "legend": {"color": "independent", "strokeDash": "independent"}},
      "vconcat": [
        {
          "title": {"text": "All patients combined", "offset": 12},
          "width": 438, "height": 436,
          "data": {"name": "b"},
          "resolve": {"axis": {"x": "independent", "y": "independent"}},
          "layer": [
            {
              "mark": {"type": "line", "strokeOpacity": 0},
              "encoding": {
                "x": {"field": "distance", "type": "quantitative", "scale": {"domain": [0, 20], "nice": false}, "axis": {"orient": "top", "labels": false, "title": null, "values": [5, 10, 15]}},
                "y": {"field": "fraction", "type": "quantitative", "scale": {"domain": [0, 1], "nice": false}, "axis": {"orient": "right", "labels": false, "title": null, "values": [0.2, 0.4, 0.6, 0.8]}},
                "detail": {"field": "organ"}
              }
            },
            {
              "mark": {"type": "line", "interpolate": "monotone", "strokeWidth": 2.2, "clip": true},
              "encoding": {
                "x": {"field": "distance", "type": "quantitative", "axis": {"orient": "bottom", "title": "Distance (mm)", "values": [0, 5, 10, 15, 20]}},
                "y": {"field": "fraction", "type": "quantitative", "axis": {"orient": "left", "title": "Fraction less than distance", "values": [0, 0.2, 0.4, 0.6, 0.8, 1], "format": "~g", "titlePadding": 34}},
                "color": {
                  "field": "organ", "type": "nominal",
                  "scale": {"domain": ["Body", "Bones", "Kidneys", "Lungs", "Liver", "Spleen", "Stomach", "Brain"], "range": ["#d4d4d4", "#000000", "#000000", "#000000", "#7a7a7a", "#8a8a8a", "#8a8a8a", "#8a8a8a"]},
                  "legend": {"title": null, "symbolType": "M-2,0H2", "columns": 2, "columnPadding": 87, "rowPadding": 7, "legendX": 11, "legendY": 553}
                },
                "strokeDash": {
                  "field": "organ", "type": "nominal",
                  "scale": {"domain": ["Body", "Bones", "Kidneys", "Lungs", "Liver", "Spleen", "Stomach", "Brain"], "range": [[1, 0], [10, 6], [10, 5, 2, 5], [2, 6], [1, 0], [10, 6], [10, 5, 2, 5], [2, 6]]},
                  "legend": {"title": null, "symbolType": "M-2,0H2", "columns": 2, "columnPadding": 87, "rowPadding": 7, "legendX": 11, "legendY": 553}
                }
              }
            }
          ]
        }
      ]
    },
    {
      "title": {"text": "( c )", "orient": "bottom", "font": "Liberation Sans", "fontSize": 17, "anchor": "middle", "offset": 25, "dx": 28},
      "resolve": {"scale": {"color": "independent"}, "legend": {"color": "independent"}},
      "vconcat": [
        {
          "title": {"text": "All organs combined", "offset": 0},
          "width": 440, "height": 446,
          "data": {"name": "c"},
          "resolve": {"axis": {"x": "independent", "y": "independent"}},
          "layer": [
            {
              "mark": {"type": "line", "strokeOpacity": 0},
              "encoding": {
                "x": {"field": "distance", "type": "quantitative", "scale": {"domain": [0, 20], "nice": false}, "axis": {"orient": "top", "labels": false, "title": null, "values": [5, 10, 15]}},
                "y": {"field": "fraction", "type": "quantitative", "scale": {"domain": [0, 1], "nice": false}, "axis": {"orient": "right", "labels": false, "title": null, "values": [0.2, 0.4, 0.6, 0.8]}},
                "detail": {"field": "curve"}
              }
            },
            {
              "mark": {"type": "line", "interpolate": "monotone", "strokeWidth": 2.2, "clip": true, "strokeDash": [9, 5]},
              "encoding": {
                "x": {"field": "distance", "type": "quantitative", "axis": {"orient": "bottom", "title": "Distance (mm)", "values": [0, 5, 10, 15, 20]}},
                "y": {"field": "fraction", "type": "quantitative", "axis": {"orient": "left", "title": "Fraction less than distance", "values": [0, 0.2, 0.4, 0.6, 0.8, 1], "format": "~g", "titlePadding": 34}},
                "detail": {"field": "curve"},
                "color": {
                  "field": "sex", "type": "nominal",
                  "scale": {"domain": ["Males", "Females"], "range": ["#000000", "#8a8a8a"]},
                  "legend": {"title": null, "symbolType": "M-2,0H2", "legendX": 10, "legendY": 558, "symbolDash": [10, 6]}
                }
              }
            }
          ]
        }
      ]
    }
  ]
}
